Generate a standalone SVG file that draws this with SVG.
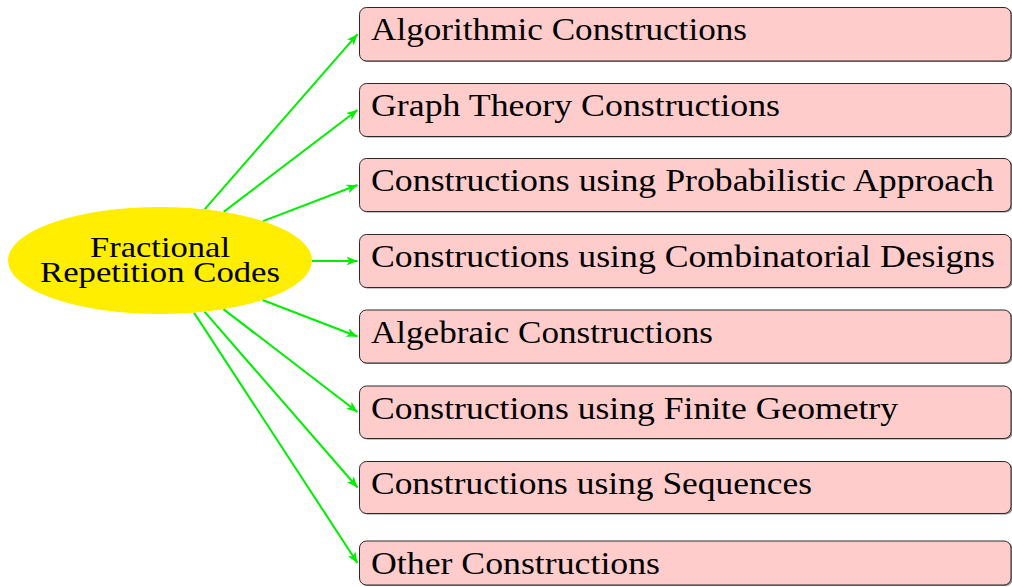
<svg xmlns="http://www.w3.org/2000/svg" width="1012" height="587" viewBox="0 0 1012 587">
<defs>
<style>
.box{fill:#ffcccc;stroke:#2a2a2a;stroke-width:1}
.shadow{fill:#6e6e6e;opacity:0.8}
.lbl{font-family:"Liberation Serif","Times New Roman",serif;font-size:31px;fill:#000}
.elbl{font-family:"Liberation Serif","Times New Roman",serif;font-size:30px;fill:#000;text-anchor:middle}
.conn{stroke:#00ee00;stroke-width:2;fill:none;marker-end:url(#arr)}
</style>
<marker id="arr" markerUnits="userSpaceOnUse" markerWidth="12" markerHeight="10" refX="11" refY="4.5" orient="auto">
<path d="M0,0 L11,4.5 L0,9 L3,4.5 z" fill="#00ee00"/>
</marker>
</defs>
<g id="connectors">
<line class="conn" x1="204.6" y1="209.4" x2="357.5" y2="34.2"/>
<line class="conn" x1="223.7" y1="211.9" x2="357.5" y2="110"/>
<line class="conn" x1="263" y1="221.1" x2="357.5" y2="185"/>
<line class="conn" x1="312" y1="261" x2="357.5" y2="261"/>
<line class="conn" x1="262.6" y1="300" x2="357.5" y2="336.5"/>
<line class="conn" x1="223.4" y1="309.1" x2="357.5" y2="412"/>
<line class="conn" x1="204.5" y1="311.7" x2="357.5" y2="487.5"/>
<line class="conn" x1="194" y1="312.6" x2="357.5" y2="563"/>
</g>
<g id="root">
<ellipse cx="160" cy="260.5" rx="152" ry="53.5" fill="#ffee00"/>
<text class="elbl" x="160" y="257" textLength="140" lengthAdjust="spacingAndGlyphs">Fractional</text>
<text class="elbl" x="160" y="282" textLength="240" lengthAdjust="spacingAndGlyphs">Repetition Codes</text>
</g>
<g id="n1">
<rect class="shadow" x="360.5" y="8.5" width="652" height="53.5" rx="7"/>
<rect class="box" x="359.5" y="7.5" width="651.5" height="53.5" rx="7"/>
<text class="lbl" x="371" y="40" textLength="376" lengthAdjust="spacingAndGlyphs">Algorithmic Constructions</text>
</g>
<g id="n2">
<rect class="shadow" x="360.5" y="84.5" width="652" height="53" rx="7"/>
<rect class="box" x="359.5" y="83.5" width="651.5" height="53" rx="7"/>
<text class="lbl" x="371" y="116" textLength="409" lengthAdjust="spacingAndGlyphs">Graph Theory Constructions</text>
</g>
<g id="n3">
<rect class="shadow" x="360.5" y="159.5" width="652" height="53" rx="7"/>
<rect class="box" x="359.5" y="158.5" width="651.5" height="53" rx="7"/>
<text class="lbl" x="371" y="191" textLength="623" lengthAdjust="spacingAndGlyphs">Constructions using Probabilistic Approach</text>
</g>
<g id="n4">
<rect class="shadow" x="360.5" y="235.5" width="652" height="53" rx="7"/>
<rect class="box" x="359.5" y="234.5" width="651.5" height="53" rx="7"/>
<text class="lbl" x="371" y="267" textLength="624" lengthAdjust="spacingAndGlyphs">Constructions using Combinatorial Designs</text>
</g>
<g id="n5">
<rect class="shadow" x="360.5" y="311" width="652" height="53" rx="7"/>
<rect class="box" x="359.5" y="310" width="651.5" height="53" rx="7"/>
<text class="lbl" x="371" y="342.5" textLength="342" lengthAdjust="spacingAndGlyphs">Algebraic Constructions</text>
</g>
<g id="n6">
<rect class="shadow" x="360.5" y="387" width="652" height="52.5" rx="7"/>
<rect class="box" x="359.5" y="386" width="651.5" height="52.5" rx="7"/>
<text class="lbl" x="371" y="418.5" textLength="527" lengthAdjust="spacingAndGlyphs">Constructions using Finite Geometry</text>
</g>
<g id="n7">
<rect class="shadow" x="360.5" y="462.5" width="652" height="52" rx="7"/>
<rect class="box" x="359.5" y="461.5" width="651.5" height="52" rx="7"/>
<text class="lbl" x="371" y="494" textLength="441" lengthAdjust="spacingAndGlyphs">Constructions using Sequences</text>
</g>
<g id="n8">
<rect class="shadow" x="360.5" y="542" width="652" height="44" rx="7"/>
<rect class="box" x="359.5" y="541" width="651.5" height="44" rx="7"/>
<text class="lbl" x="371" y="573.5" textLength="289" lengthAdjust="spacingAndGlyphs">Other Constructions</text>
</g>
</svg>
